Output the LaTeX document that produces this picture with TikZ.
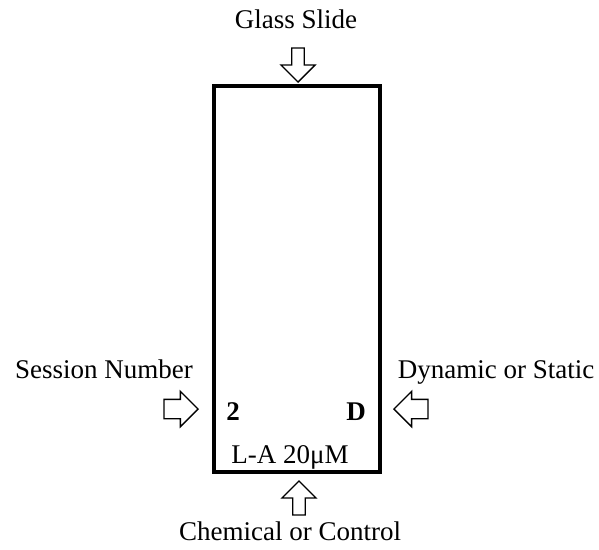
\documentclass[tikz,border=0pt]{standalone}
\usepackage{fontspec}
\setmainfont{Liberation Serif}
\usetikzlibrary{shapes.arrows}
\tikzset{
  label text/.style={font=\fontsize{27}{32}\selectfont,anchor=base,inner sep=0pt},
  block arrow/.style={single arrow,draw=black,line width=1.4pt,
    minimum height=34pt,minimum width=34pt,inner xsep=4pt,inner ysep=9pt,
    single arrow head extend=8pt,anchor=tip},
}

\begin{document}
\begin{tikzpicture}[x=1pt,y=-1pt]
 \useasboundingbox (0,0) rectangle (599,549);
 \coordinate (TopTip) at (298,83);
 \coordinate (LeftTip) at (199,409);
 \coordinate (RightTip) at (393,409);
 \coordinate (BotTip) at (299,480);
 % the slide itself
 \node[draw=black,line width=4.5pt,minimum width=166pt,minimum height=386pt,
       inner sep=0pt] (slide) at (297,279) {};
 \node[label text,font=\fontsize{27}{32}\selectfont\bfseries] (session) at (233,420) {2};
 \node[label text,font=\fontsize{27}{32}\selectfont\bfseries] (mode) at (356,420) {D};
 \node[label text] (chem) at (290,463) {L-A 20μM};
 % pointers
 \node[block arrow,shape border rotate=270] (glassarrow) at (TopTip) {};
 \node[block arrow,shape border rotate=0] (sessionarrow) at (LeftTip) {};
 \node[block arrow,shape border rotate=180] (modearrow) at (RightTip) {};
 \node[block arrow,shape border rotate=90] (chemarrow) at (BotTip) {};
 % captions
 \node[label text] (glasscap) at (296,28) {Glass Slide};
 \node[label text] (sessioncap) at (104,378) {Session Number};
 \node[label text] (modecap) at (496,378) {Dynamic or Static};
 \node[label text] (chemcap) at (290,540) {Chemical or Control};
\end{tikzpicture}
\end{document}
